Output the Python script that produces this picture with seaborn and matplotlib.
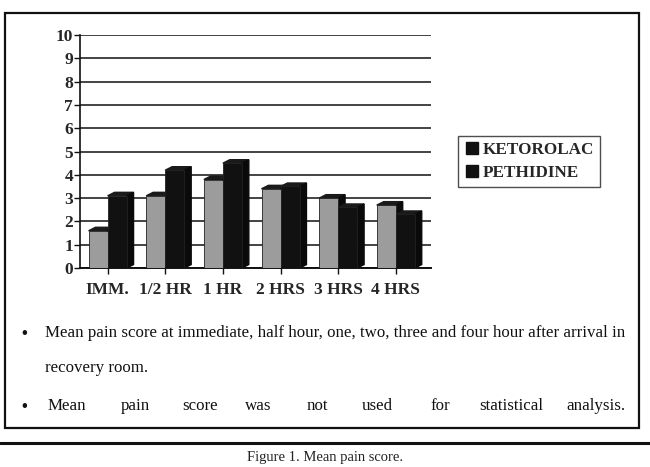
import matplotlib
matplotlib.use("Agg")
import matplotlib.pyplot as plt
from matplotlib.patches import Polygon, Rectangle
from matplotlib.lines import Line2D
import seaborn as sns
import pandas as pd

# Data
time_points = ["IMM.", "1/2 HR", "1 HR", "2 HRS", "3 HRS", "4 HRS"]
ketorolac = [1.6, 3.1, 3.8, 3.4, 3.0, 2.7]
pethidine = [3.1, 4.2, 4.5, 3.5, 2.6, 2.3]
drugs = ["KETOROLAC", "PETHIDINE"]

df = pd.DataFrame({
    "time": time_points * 2,
    "score": ketorolac + pethidine,
    "drug": [drugs[0]] * len(time_points) + [drugs[1]] * len(time_points),
})

sns.set_theme(style="white")
plt.rcParams["font.family"] = ["Liberation Serif", "DejaVu Serif"]

fig = plt.figure(figsize=(6.5, 4.67), dpi=100)
ax = fig.add_axes([0.123, 0.426, 0.540, 0.499])

palette = {drugs[0]: "#9c9c9c", drugs[1]: "#111111"}
sns.barplot(data=df, x="time", y="score", hue="drug", palette=palette,
            width=0.66, ax=ax, legend=False, zorder=3,
            edgecolor="#222222", linewidth=0.6)

# fake 3D tops and sides on the bars
depth = 0.12
for p in ax.patches:
    x0, w, h = p.get_x(), p.get_width(), p.get_height()
    top = Polygon([(x0, h), (x0 + depth, h + 0.15), (x0 + w + depth, h + 0.15),
                   (x0 + w, h)], closed=True, facecolor="#1a1a1a",
                  edgecolor="#1a1a1a", zorder=2)
    ax.add_patch(top)
    side = Polygon([(x0 + w, 0), (x0 + w + depth, 0.15), (x0 + w + depth, h + 0.15),
                    (x0 + w, h)], closed=True, facecolor="#0a0a0a",
                   edgecolor="#0a0a0a", zorder=2)
    ax.add_patch(side)

ax.set_ylim(0, 10)
ax.set_xlim(-0.48, len(time_points) - 0.39)
ax.set_yticks(range(0, 11))
ax.yaxis.grid(True, color="#111111", linewidth=1.1)
ax.set_axisbelow(True)
for s in ["top", "right"]:
    ax.spines[s].set_visible(False)
ax.spines["left"].set_color("#111111")
ax.spines["bottom"].set_color("#111111")
ax.spines["left"].set_linewidth(1.2)
ax.spines["bottom"].set_linewidth(1.4)
ax.tick_params(axis="y", left=True, length=4, width=1, color="#111111", pad=1)
ax.tick_params(axis="x", bottom=True, length=4, width=1, color="#111111", pad=6)
ax.set_xlabel("")
ax.set_ylabel("")
for lbl in ax.get_yticklabels():
    lbl.set_fontweight("bold")
    lbl.set_fontsize(12.5)
for lbl in ax.get_xticklabels():
    lbl.set_fontweight("bold")
    lbl.set_fontsize(12.5)

# legend
handles = [Line2D([0], [0], marker="s", linestyle="", markersize=8,
                  markerfacecolor="#111111", markeredgecolor="#111111")
           for _ in drugs]
leg = fig.legend(handles, drugs, loc="upper left", bbox_to_anchor=(0.705, 0.709),
                 frameon=True, fancybox=False, handletextpad=0.2,
                 borderpad=0.35, labelspacing=0.4, handlelength=0.9,
                 borderaxespad=0.0,
                 prop={"weight": "bold", "size": 12.3})
leg.get_frame().set_edgecolor("#222222")
leg.get_frame().set_linewidth(1.0)

# outer box
fig.patches.append(Rectangle((0.007, 0.083), 0.976, 0.889, transform=fig.transFigure,
                             fill=False, edgecolor="#111111", linewidth=1.6))

# notes under the chart
note_kw = dict(fontsize=12.2, color="#111111", va="center")
bullet_kw = dict(fontsize=12, color="#111111", va="center", fontweight="bold")
fig.text(0.033, 1 - 334 / 467, "\u2022", **bullet_kw)
fig.text(0.069, 1 - 333 / 467,
         "Mean pain score at immediate, half hour, one, two, three and four hour after arrival in",
         **note_kw)
fig.text(0.069, 1 - 368 / 467, "recovery room.", **note_kw)
fig.text(0.033, 1 - 407 / 467, "\u2022", **bullet_kw)
words = ["Mean", "pain", "score", "was", "not", "used", "for", "statistical", "analysis."]
word_x = [0.073, 0.185, 0.28, 0.377, 0.472, 0.557, 0.662, 0.738, 0.872]
for wx, wd in zip(word_x, words):
    fig.text(wx, 1 - 406 / 467, wd, **note_kw)

fig.add_artist(Line2D([0.0, 1.0], [1 - 443 / 467, 1 - 443 / 467], transform=fig.transFigure,
                      color="#111111", linewidth=2.2))
fig.text(0.5, 1 - 458 / 467, "Figure 1. Mean pain score.", ha="center", va="center",
         fontsize=10.5, color="#222222")

fig.savefig("out.png", dpi=100)
